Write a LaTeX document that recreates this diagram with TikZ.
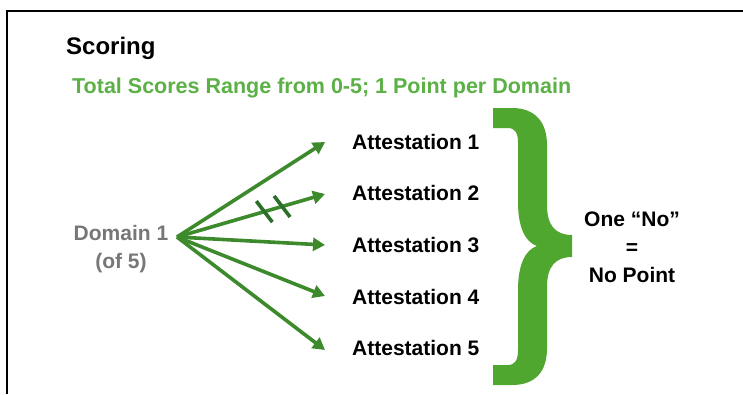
\documentclass[tikz,border=0pt]{standalone}
\usepackage{fontspec}
\setmainfont{Liberation Sans}
\usetikzlibrary{arrows.meta,calc}
\definecolor{arrowgreen}{HTML}{3C8A2C}
\definecolor{hashgreen}{HTML}{2C6F2A}
\definecolor{bracegreen}{HTML}{4FA72F}
\definecolor{textgreen}{HTML}{5BB146}
\definecolor{domgrey}{HTML}{777777}
\tikzset{
  att/.style={anchor=west, inner sep=0pt, font=\fontsize{21}{25}\selectfont\bfseries},
  conn/.style={draw=arrowgreen, line width=3.6pt, -{Triangle[length=12pt,width=13pt]}},
  hash/.style={draw=hashgreen, line width=3.6pt},
}
\begin{document}
\begin{tikzpicture}[x=1pt,y=-1pt]
\useasboundingbox (0,0) rectangle (743,394);
\fill[white] (0,0) rectangle (743,394);
\draw[line width=2.5pt] (743,11) -- (7,11) -- (7,394);

\node[anchor=base west, inner sep=0pt, font=\fontsize{24}{28}\selectfont\bfseries] (title) at (66,54) {Scoring};
\node[anchor=base west, inner sep=0pt, text=textgreen, font=\fontsize{21.5}{25}\selectfont\bfseries] (sub) at (72,93) {Total Scores Range from 0-5; 1 Point per Domain};

\node[align=center, inner sep=0pt, text=domgrey, font=\fontsize{21}{28}\selectfont\bfseries] (dom) at (121,249) {Domain 1\\(of 5)};

\node[att] (a1) at (352,142) {Attestation 1};
\node[att] (a2) at (352,193) {Attestation 2};
\node[att] (a3) at (352,245) {Attestation 3};
\node[att] (a4) at (352,297) {Attestation 4};
\node[att] (a5) at (352,348) {Attestation 5};

\coordinate (o) at (177,237);
\coordinate (t1) at (325,142);
\coordinate (t2) at (325,194);
\coordinate (t3) at (325,245);
\coordinate (t4) at (325,296);
\coordinate (t5) at (325,350);

\draw[conn] (o) -- (t1);
\draw[conn] (o) -- (t2) coordinate[pos=0.59] (h1) coordinate[pos=0.71] (h2);
\draw[conn] (o) -- (t3);
\draw[conn] (o) -- (t4);
\draw[conn] (o) -- (t5);
\draw[hash] ($(h1)+(-8,-10.5)$) -- ($(h1)+(8,10.5)$);
\draw[hash] ($(h2)+(-8,-10.5)$) -- ($(h2)+(8,10.5)$);

\fill[bracegreen] (493,108) -- (512,108) .. controls (535,108) and (547,122) .. (547,145)
  -- (547,205) .. controls (547,225) and (555,235) .. (572,235) -- (572,257)
  .. controls (555,257) and (547,267) .. (547,287) -- (547,348)
  .. controls (547,372) and (535,385) .. (512,385) -- (493,385) -- (493,365) -- (508,365)
  .. controls (515,365) and (518,360) .. (518,350) -- (518,290)
  .. controls (518,265) and (525,250) .. (537,246)
  .. controls (525,242) and (518,227) .. (518,202) -- (518,142)
  .. controls (518,133) and (515,128) .. (508,128) -- (493,128) -- cycle;

\node[align=center, inner sep=0pt, font=\fontsize{21}{28}\selectfont\bfseries] (res) at (632,247) {One “No”\\=\\No Point};
\end{tikzpicture}
\end{document}
